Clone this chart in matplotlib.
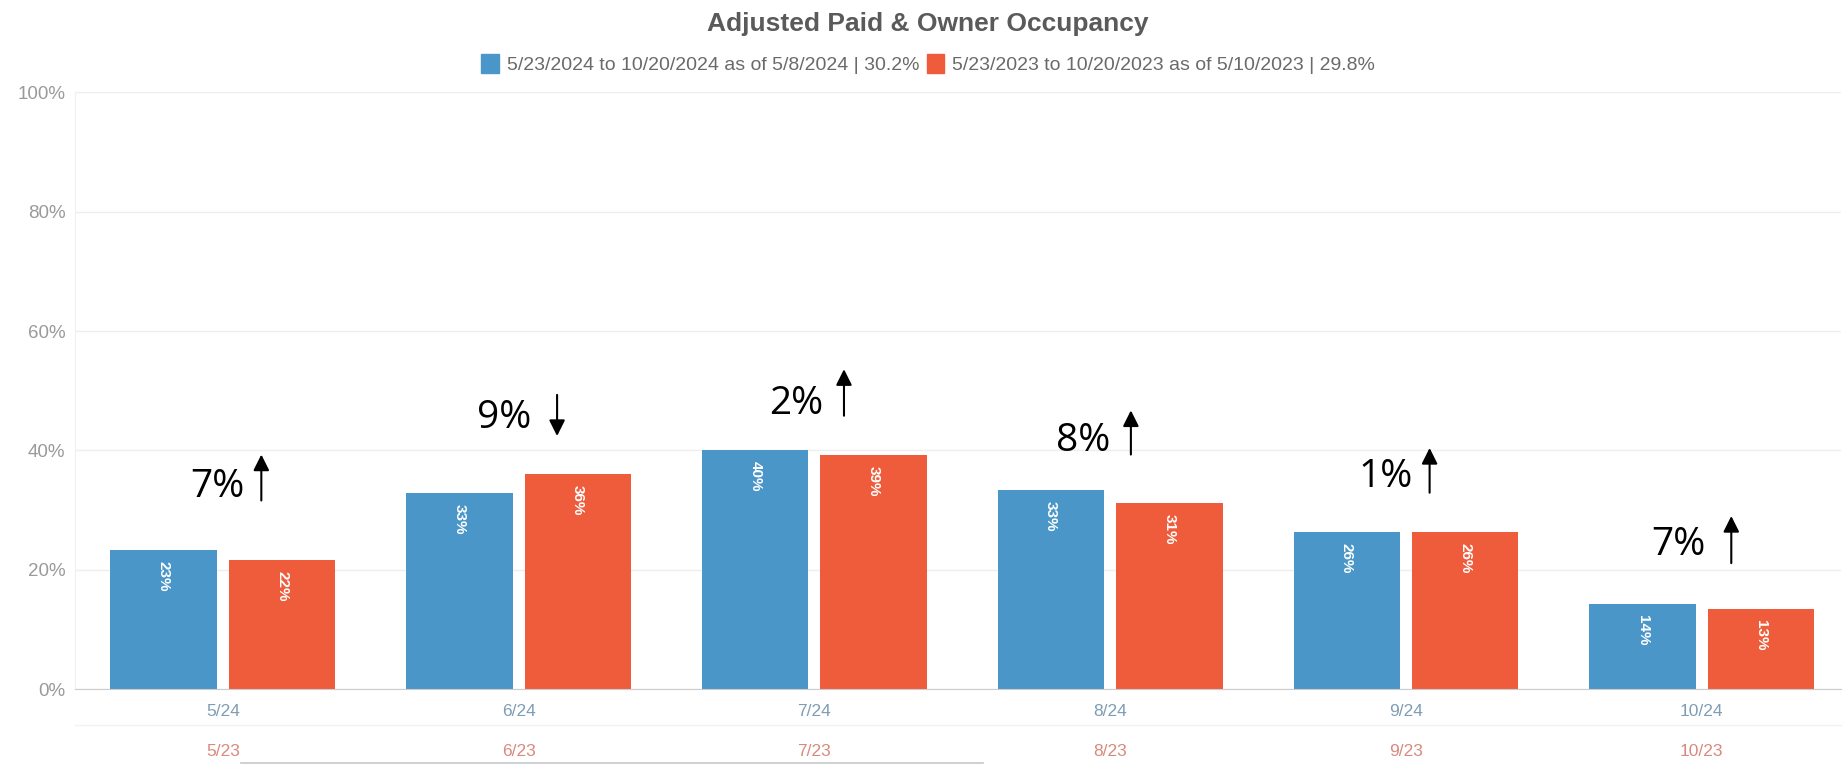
import matplotlib.pyplot as plt
from matplotlib.patches import Patch
from matplotlib.lines import Line2D
import numpy as np

months_24 = ["5/24", "6/24", "7/24", "8/24", "9/24", "10/24"]
months_23 = ["5/23", "6/23", "7/23", "8/23", "9/23", "10/23"]
occ_2024 = [23.3, 32.9, 40.0, 33.4, 26.4, 14.2]
occ_2023 = [21.7, 36.1, 39.2, 31.2, 26.3, 13.4]
series_names = ["5/23/2024 to 10/20/2024 as of 5/8/2024 | 30.2%",
                "5/23/2023 to 10/20/2023 as of 5/10/2023 | 29.8%"]
change_text = ["7%", "9%", "2%", "8%", "1%", "7%"]

# hand placed callout positions (offset from group centre, y in %)
callout_text_pos = [(-0.02, 33.9), (-0.05, 45.4), (-0.06, 47.7), (-0.09, 41.6), (-0.07, 35.5), (-0.08, 24.1)]
callout_arrow = [(0.13, 31.6, 39.3), (0.13, 49.3, 42.4), (0.10, 45.8, 53.6),
                 (0.07, 39.3, 46.7), (0.08, 32.9, 40.4), (0.10, 21.1, 29.0)]

blue = "#4a96c9"
red = "#ee5c3c"

fig = plt.figure(figsize=(18.47, 7.65), dpi=100)
ax = fig.add_axes([0.0406, 0.0993, 0.956, 0.780])

x = np.arange(len(months_24))
w = 0.36
b1 = ax.bar(x - 0.2, occ_2024, w, color=blue, zorder=2)
b2 = ax.bar(x + 0.2, occ_2023, w, color=red, zorder=2)

for bars, vals in [(b1, occ_2024), (b2, occ_2023)]:
    for rect, v in zip(bars, vals):
        ax.annotate(f"{round(v)}%", (rect.get_x() + rect.get_width() / 2, v),
                    xytext=(0, -8), textcoords="offset points", rotation=-90,
                    ha="center", va="top", color="white", fontsize=11,
                    fontweight="bold", family="Liberation Sans", zorder=3)

ax.set_xlim(-0.5, 5.47)
ax.set_ylim(0, 100)
ax.set_yticks(range(0, 101, 20))
ax.set_yticklabels([f"{t}%" for t in range(0, 101, 20)], color="#9a9a9a",
                   fontsize=13.5, family="Liberation Sans")
ax.tick_params(axis="y", length=0, pad=7)
ax.set_xticks([])
ax.grid(axis="y", color="#eeeeee", lw=1, zorder=0)
for s in ["top", "right"]:
    ax.spines[s].set_visible(False)
ax.spines["left"].set_color("#f0f0f0")
ax.spines["bottom"].set_color("#cccccc")

tr = ax.get_xaxis_transform()
for i in x:
    ax.text(i, -0.038, months_24[i], transform=tr, ha="center", va="center",
            color="#7f9db5", fontsize=12.5, family="Liberation Sans")
    ax.text(i, -0.105, months_23[i], transform=tr, ha="center", va="center",
            color="#d98a7e", fontsize=12.5, family="Liberation Sans")
ax.plot([-0.5, 5.47], [-0.06, -0.06], transform=tr, color="#f2f2f2", lw=1, clip_on=False)

for i in x:
    tx, ty = callout_text_pos[i]
    ax.text(i + tx, ty, change_text[i], ha="center", va="center", fontsize=28,
            family="Open Sans", color="black", zorder=4)
    ax_off, y0, y1 = callout_arrow[i]
    ax.annotate("", xy=(i + ax_off, y1), xytext=(i + ax_off, y0),
                arrowprops=dict(arrowstyle="-|>", color="black", lw=1.5,
                                mutation_scale=24, shrinkA=0, shrinkB=0), zorder=4)

fig.text(0.5025, 0.968, "Adjusted Paid & Owner Occupancy", ha="center", va="center",
         fontsize=19, fontweight="bold", color="#5a5a5a", family="Liberation Sans")

handles = [Patch(color=blue), Patch(color=red)]
fig.legend(handles, series_names, loc="center", bbox_to_anchor=(0.5025, 0.916),
           ncol=2, frameon=False, handlelength=0.9, handleheight=1.1,
           handletextpad=0.4, columnspacing=0.4, labelcolor="#6a6a6a",
           prop={"family": "Liberation Sans", "size": 14})

fig.add_artist(Line2D([241 / 1847, 983 / 1847], [2 / 765, 2 / 765], color="#c8c8c8", lw=1.2))

fig.savefig("out.png", dpi=100)
